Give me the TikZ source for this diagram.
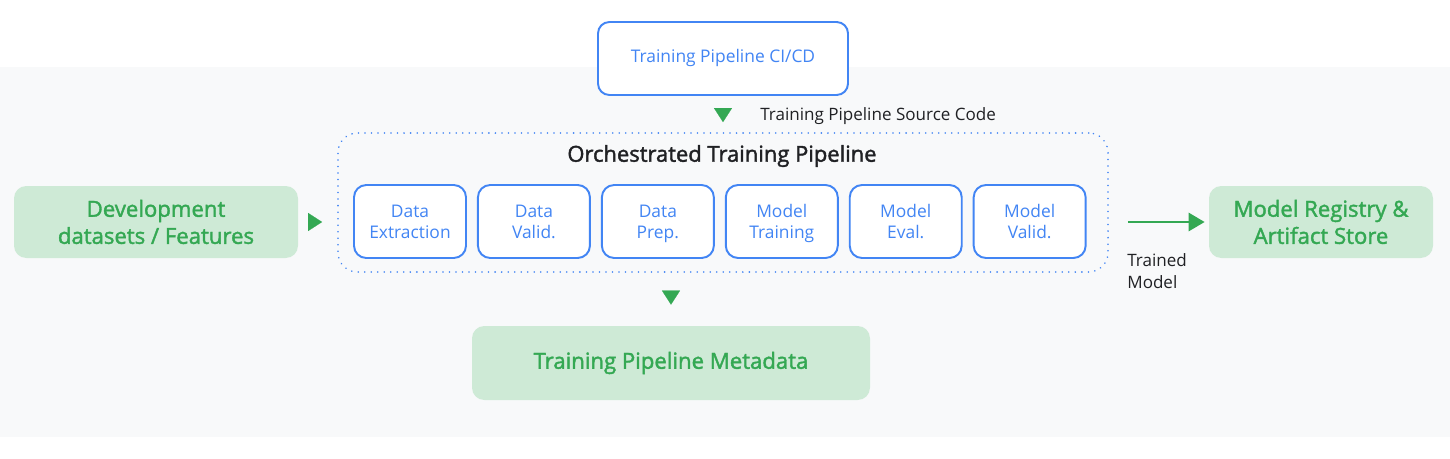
\documentclass[tikz,border=0pt]{standalone}
\usepackage{fontspec}
\setmainfont{Open Sans}
\newfontfamily\medfont[FakeBold=1.8]{Open Sans}
\usetikzlibrary{arrows.meta, positioning, calc}
\definecolor{gblue}{HTML}{4285F4}
\definecolor{ggreen}{HTML}{34A853}
\definecolor{gmint}{HTML}{CEEAD6}
\definecolor{gpanel}{HTML}{F8F9FA}
\definecolor{gink}{HTML}{202124}

\begin{document}
\begin{tikzpicture}[
  stepbox/.style={draw=gblue, fill=white, line width=1.1pt, rounded corners=7pt,
    minimum width=2.24cm, minimum height=1.46cm, inner sep=0pt, align=center,
    text=gblue, font=\fontsize{9.9}{11.9}\selectfont,
    execute at begin node=\strut, text depth=0pt},
  greenbox/.style={fill=gmint, rounded corners=7pt, inner sep=0pt, align=center,
    text=ggreen, font=\medfont\fontsize{12.6}{15.4}\selectfont},
  label/.style={text=gink, inner sep=0pt, font=\fontsize{9.7}{12.5}\selectfont},
  tip/.style={ggreen, line width=0.1pt, -{Triangle[length=0.28cm, width=0.36cm]}},
]

% Background
\useasboundingbox (0,0) rectangle (29,-9.18);
\fill[white] (0,0) rectangle (29,-9.18);
\fill[gpanel] (0,-1.34) rectangle (29,-8.74);

% CI/CD box on top
\node[stepbox, minimum width=5cm, rounded corners=6.5pt, text depth=,
      font=\fontsize{9.9}{11}\selectfont]
  (cicd) at (14.46,-1.17) {Training Pipeline CI/CD};

% Orchestrated pipeline (dotted frame)
\node[draw=gblue, line width=1pt, dash pattern=on 0.01pt off 3.7pt, line cap=round,
      rounded corners=11pt, minimum width=15.4cm, minimum height=2.78cm]
  (pipe) at (14.46,-4.05) {};
\node[text=gink, inner sep=0pt, font=\medfont\fontsize{12.5}{14}\selectfont]
  (title) at (14.44,-3.12) {Orchestrated Training Pipeline};

% Pipeline steps
\node[stepbox] (extract) at (8.2,-4.43) {Data\\Extraction};
\node[stepbox, right=0.2cm of extract] (dvalid) {Data\\Valid.};
\node[stepbox, right=0.2cm of dvalid] (prep) {Data\\Prep.};
\node[stepbox, right=0.2cm of prep] (train) {Model\\Training};
\node[stepbox, right=0.2cm of train] (eval) {Model\\Eval.};
\node[stepbox, right=0.2cm of eval] (mvalid) {Model\\Valid.};

% Inputs and outputs
\node[greenbox, minimum width=5.68cm, minimum height=1.44cm]
  (dev) at (3.12,-4.44) {Development\\datasets / Features};
\node[greenbox, minimum width=4.48cm, minimum height=1.44cm]
  (registry) at (26.42,-4.44) {Model Registry \&\\Artifact Store};
\node[greenbox, minimum width=7.96cm, minimum height=1.48cm]
  (meta) at (13.42,-7.26) {Training Pipeline Metadata};

% Labels
\node[label, anchor=west] (src) at (15.2,-2.32) {Training Pipeline Source Code};
\node[label, anchor=west, align=left] (trained) at (22.54,-5.42) {Trained\\Model};

% Connectors
\draw[tip, shorten <=0.28cm, shorten >=0.2cm] (cicd.south) -- (cicd.south |- pipe.north);
\draw[tip, shorten <=0.22cm, shorten >=0.3cm] (dev.east) -- (dev.east -| pipe.west);
\draw[tip, shorten <=0.38cm, shorten >=0.42cm] (pipe.south -| meta.north) -- (meta.north);
\draw[ggreen, line width=1.7pt, -{Triangle[length=0.32cm, width=0.36cm]},
      shorten <=0.38cm, shorten >=0.08cm] (pipe.east |- registry.west) -- (registry.west);

\end{tikzpicture}
\end{document}
